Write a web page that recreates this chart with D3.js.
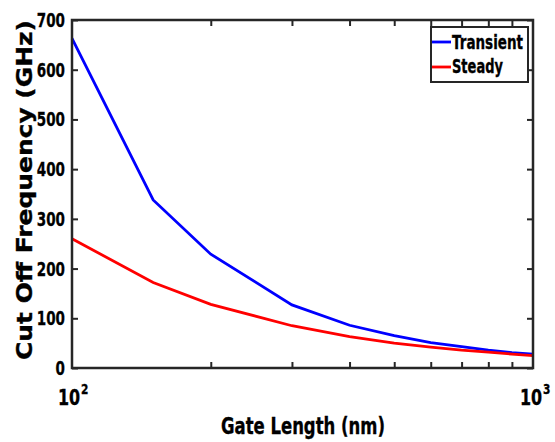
<!DOCTYPE html>
<html><head><meta charset="utf-8">
<script src="https://cdn.jsdelivr.net/npm/d3@7"></script>
<style>body{margin:0;background:#fff}svg{display:block}</style>
</head><body>
<script>
const gateLength = [100, 150, 200, 300, 400, 500, 600, 700, 800, 900, 1000];
const transient = [663, 338, 229, 127, 86, 65, 51, 43, 36, 31, 28];
const steady = [260, 172, 128, 85, 63, 50, 42, 36, 32, 28, 25];
const seriesNames = ["Transient", "Steady"];
const seriesColors = ["#0000ff", "#ff0000"];
const yTicks = [0, 100, 200, 300, 400, 500, 600, 700];
const xMinorTicks = [200, 300, 400, 500, 600, 700, 800, 900];
const xMajorLabels = [[100, "2"], [1000, "3"]];

const W = 555, H = 442;
const m = {l: 72, r: 22, t: 20, b: 74};
const svg = d3.select("body").append("svg").attr("width", W).attr("height", H);
const x = d3.scaleLog().domain([100, 1000]).range([m.l, W - m.r]);
const y = d3.scaleLinear().domain([0, 700]).range([H - m.b, m.t]);
const axisColor = "#262626";
const font = "'DejaVu Sans', sans-serif";

function txt(parent, s, size, w) {
  const t = parent.append("text").attr("font-family", font).attr("font-weight", "bold")
    .attr("font-size", size).attr("fill", "#000").attr("stroke", "#000").attr("stroke-width", 0.35)
    .text(s);
  if (w) t.attr("textLength", w).attr("lengthAdjust", "spacingAndGlyphs");
  return t;
}

// lines
const series = [transient, steady];
const line = d3.line().x((d, i) => x(gateLength[i])).y(d => y(d));
series.forEach((s, k) => {
  svg.append("path").datum(s).attr("d", line).attr("fill", "none")
    .attr("stroke", seriesColors[k]).attr("stroke-width", 2.8);
});

// axes box with inward ticks
const tl = 6;
const g = svg.append("g");
const axL = d3.axisLeft(y).tickValues(yTicks).tickSizeInner(-tl).tickSizeOuter(0).tickFormat("");
const axR = d3.axisRight(y).tickValues(yTicks).tickSizeInner(-tl).tickSizeOuter(0).tickFormat("");
const axB = d3.axisBottom(x).tickValues(xMinorTicks).tickSizeInner(-tl).tickSizeOuter(0).tickFormat("");
const axT = d3.axisTop(x).tickValues(xMinorTicks).tickSizeInner(-tl).tickSizeOuter(0).tickFormat("");
g.append("g").attr("transform", `translate(${m.l},0)`).call(axL);
g.append("g").attr("transform", `translate(${W - m.r},0)`).call(axR);
g.append("g").attr("transform", `translate(0,${H - m.b})`).call(axB);
g.append("g").attr("transform", `translate(0,${m.t})`).call(axT);
g.selectAll(".domain").remove();
g.selectAll(".tick line").attr("stroke", axisColor).attr("stroke-width", 2);
svg.append("rect").attr("x", m.l).attr("y", m.t).attr("width", W - m.r - m.l).attr("height", H - m.b - m.t)
  .attr("fill", "none").attr("stroke", axisColor).attr("stroke-width", 2.5);

// y tick labels (narrow bold)
yTicks.forEach(v => {
  const s = String(v);
  txt(svg, s, 20, s.length * 9.4).attr("x", 65).attr("y", y(v) + 7).attr("text-anchor", "end");
});

// x tick labels 10^2, 10^3 (single text with superscript)
xMajorLabels.forEach(([v, e], i) => {
  const x0 = i === 0 ? x(v) - 14 : x(v) - 13;
  const t = txt(svg, null, 21).attr("transform", `translate(${x0},405) scale(0.76,1)`);
  t.append("tspan").text("10");
  t.append("tspan").text(e).attr("font-size", 14).attr("dy", -11).attr("dx", 1);
});

// axis titles
txt(svg, "Gate Length (nm)", 23, 164).attr("x", 221).attr("y", 434);
txt(svg, "Cut Off Frequency (GHz)", 21, 340)
  .attr("transform", `translate(32,${360}) rotate(-90)`);

// legend
const lg = svg.append("g");
lg.append("rect").attr("x", 431).attr("y", 27).attr("width", 97).attr("height", 55)
  .attr("fill", "#fff").attr("stroke", axisColor).attr("stroke-width", 2);
const legendW = [71, 51];
seriesNames.forEach((n, i) => {
  const yy = 42 + i * 25;
  lg.append("line").attr("x1", 432).attr("x2", 451).attr("y1", yy).attr("y2", yy)
    .attr("stroke", seriesColors[i]).attr("stroke-width", 2.8);
  txt(lg, n, 19, legendW[i]).attr("x", 452).attr("y", 49 + i * 24);
});
</script>
</body></html>
